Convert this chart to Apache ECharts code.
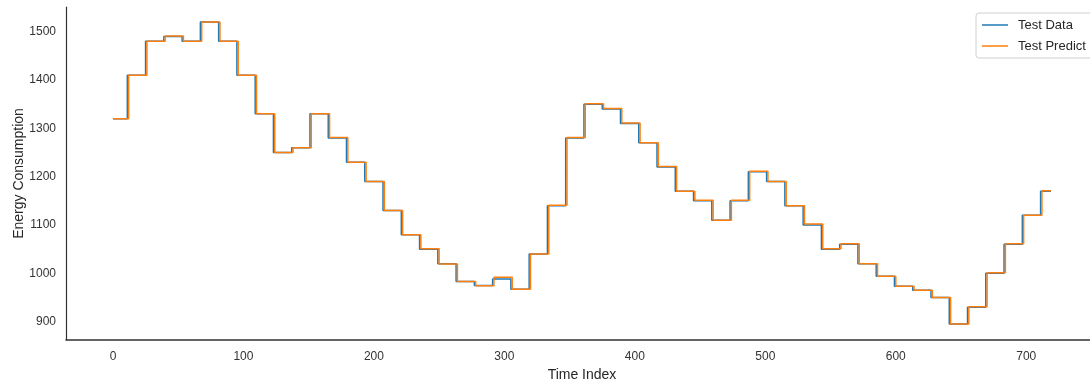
<!DOCTYPE html>
<html>
<head>
<meta charset="utf-8">
<title>Energy Consumption</title>
<script src="https://cdn.jsdelivr.net/npm/echarts@6/dist/echarts.min.js"></script>
<style>
  html, body { margin: 0; padding: 0; background: #fff; }
  #chart { width: 1090px; height: 383px; }
</style>
</head>
<body>
<div id="chart"></div>
<script>
// index where each level starts, and the level itself
const dataChangeIdx = [0, 11, 25, 39, 53, 67, 81, 95, 109, 123, 137, 151, 165, 179, 193, 207, 221, 235, 249, 263,
  277, 291, 305, 319, 333, 347, 361, 375, 389, 403, 417, 431, 445, 459, 473, 487, 501, 515, 529, 543,
  557, 571, 585, 599, 613, 627, 641, 655, 669, 683, 697, 711];
const dataLevels = [1320, 1410, 1480, 1490, 1480, 1520, 1480, 1410, 1330, 1250, 1260, 1330, 1280, 1230, 1190, 1130, 1080, 1050, 1020, 983,
  975, 988, 967, 1040, 1140, 1280, 1350, 1340, 1310, 1270, 1220, 1170, 1150, 1110, 1150, 1210, 1190, 1140, 1100, 1050,
  1060, 1020, 994, 973, 965, 950, 895, 930, 1000, 1060, 1120, 1170];

// prediction lags the data by one step
const predictChangeIdx = [0, 12, 26, 40, 54, 68, 82, 96, 110, 124, 138, 152, 166, 180, 194, 208, 222, 236, 250, 264,
  278, 292, 306, 320, 334, 348, 362, 376, 390, 404, 418, 432, 446, 460, 474, 488, 502, 516, 530, 544,
  558, 572, 586, 600, 614, 628, 642, 656, 670, 684, 698, 712];
const predictLevels = [1320, 1410, 1480, 1491, 1480, 1520, 1480, 1410, 1330, 1250, 1260, 1330, 1281, 1230, 1190, 1130, 1080, 1051, 1019, 983,
  974, 992, 967, 1040, 1141, 1281, 1351, 1341, 1311, 1270, 1221, 1170, 1151, 1110, 1151, 1211, 1190, 1140, 1102, 1051,
  1061, 1020, 994, 973, 965, 950, 895, 931, 1001, 1061, 1120, 1171];

const lastIndex = 719;
const xTicks = [0, 100, 200, 300, 400, 500, 600, 700];
const yTicks = [900, 1000, 1100, 1200, 1300, 1400, 1500];

function toPoints(idx, levels) {
  let pts = idx.map((x, i) => [x, levels[i]]);
  pts.push([lastIndex, levels[levels.length - 1]]);
  return pts;
}

const font = "'Liberation Sans', Arial, sans-serif";

let chart = echarts.init(document.getElementById('chart'));
let option = {
  animation: false,
  grid: {
    left: 66,
    width: 1032,
    top: 7,
    height: 333,
    containLabel: false,
    outerBoundsMode: 'none'
  },
  legend: {
    data: ['Test Data', 'Test Predict'],
    orient: 'vertical',
    left: 976,
    top: 13,
    padding: [5, 20, 5, 6],
    icon: 'rect',
    itemWidth: 26,
    itemHeight: 1.5,
    itemGap: 7,
    backgroundColor: '#fff',
    borderColor: '#d0d0d0',
    borderWidth: 1,
    borderRadius: 3,
    textStyle: {
      fontFamily: font,
      fontSize: 13,
      color: '#262626',
      lineHeight: 14,
      padding: [0, 0, 0, 5]
    }
  },
  xAxis: {
    type: 'value',
    min: -36,
    max: 755,
    name: 'Time Index',
    nameLocation: 'middle',
    nameGap: 27,
    nameTextStyle: { fontFamily: font, fontSize: 14, color: '#262626' },
    splitLine: { show: false },
    axisTick: { show: false },
    axisLine: { onZero: false, lineStyle: { color: '#333', width: 1.5 } },
    axisLabel: {
      customValues: xTicks,
      formatter: (v) => String(v),
      margin: 11,
      fontFamily: font,
      fontSize: 12,
      color: '#333'
    }
  },
  yAxis: {
    type: 'value',
    min: 862,
    max: 1551,
    name: 'Energy Consumption',
    nameLocation: 'middle',
    nameGap: 40,
    nameMoveOverlap: false,
    nameTextStyle: { fontFamily: font, fontSize: 14, color: '#262626' },
    splitLine: { show: false },
    axisTick: { show: false },
    axisLine: { show: true, onZero: false, lineStyle: { color: '#333', width: 1.2 } },
    axisLabel: {
      customValues: yTicks,
      formatter: (v) => String(v),
      margin: 10,
      fontFamily: font,
      fontSize: 12,
      color: '#333'
    }
  },
  series: [
    {
      name: 'Test Data',
      type: 'line',
      step: 'end',
      symbol: 'none',
      data: toPoints(dataChangeIdx, dataLevels),
      itemStyle: { color: '#1f77b4' },
      lineStyle: { color: '#1f77b4', width: 1.5 }
    },
    {
      name: 'Test Predict',
      type: 'line',
      step: 'end',
      symbol: 'none',
      data: toPoints(predictChangeIdx, predictLevels),
      itemStyle: { color: '#ff7f0e' },
      lineStyle: { color: '#ff7f0e', width: 1.5 }
    }
  ]
};
chart.setOption(option);
</script>
</body>
</html>
